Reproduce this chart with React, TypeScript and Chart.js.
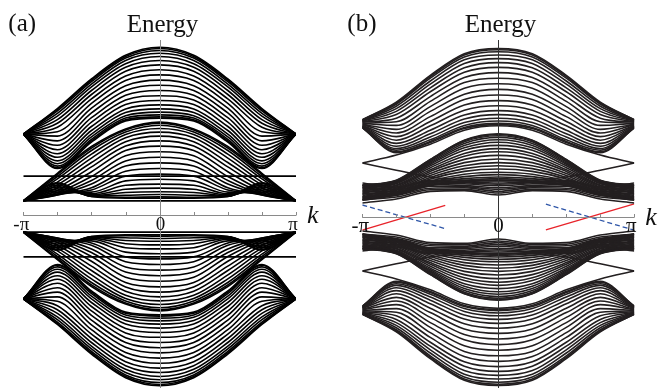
import { useEffect, useRef } from "react";
import { Chart, registerables } from "chart.js";

Chart.register(...registerables);

const PI = Math.PI;

// momenta at which every band line is sampled (whole Brillouin zone)
const kSamples = [-PI, -0.75 * PI, -0.5 * PI, -0.25 * PI, 0, 0.25 * PI, 0.5 * PI, 0.75 * PI, PI];
const kTicks = [-PI, -0.75 * PI, -0.5 * PI, -0.25 * PI, 0, 0.25 * PI, 0.5 * PI, 0.75 * PI, PI];
const kTickLabels = ["-π", "0", "π"];

// Each band line: energies at k = 0, π/4, π/2, 3π/4, π (the spectrum is even in k).
// Panel (a): upper half; the lower half is its mirror image E -> -E.
const bandA1 = [
  [4.23, 4.03, 3.44, 2.70, 2.06], [4.20, 4.00, 3.41, 2.68, 2.06], [4.15, 3.96, 3.37, 2.64, 2.06],
  [4.08, 3.90, 3.31, 2.58, 2.06], [4.00, 3.82, 3.24, 2.51, 2.06], [3.90, 3.73, 3.15, 2.42, 2.06],
  [3.79, 3.63, 3.05, 2.33, 2.06], [3.67, 3.51, 2.94, 2.23, 2.06], [3.54, 3.40, 2.83, 2.12, 2.06],
  [3.41, 3.27, 2.71, 2.01, 2.06], [3.28, 3.15, 2.59, 1.89, 2.06], [3.15, 3.03, 2.47, 1.78, 2.06],
  [3.02, 2.91, 2.36, 1.67, 2.06], [2.90, 2.80, 2.25, 1.57, 2.06], [2.79, 2.69, 2.15, 1.48, 2.06],
  [2.69, 2.60, 2.06, 1.39, 2.06], [2.61, 2.52, 1.99, 1.32, 2.06], [2.54, 2.46, 1.93, 1.26, 2.06],
  [2.49, 2.42, 1.89, 1.22, 2.06], [2.46, 2.39, 1.86, 1.20, 2.06],
];
const bandA2 = [
  [2.36, 2.19, 1.75, 1.08, 0.39], [2.33, 2.16, 1.71, 1.05, 0.39], [2.28, 2.11, 1.65, 1.00, 0.39],
  [2.20, 2.05, 1.56, 0.94, 0.39], [2.11, 1.97, 1.46, 0.86, 0.39], [2.01, 1.87, 1.35, 0.79, 0.39],
  [1.89, 1.76, 1.24, 0.72, 0.39], [1.76, 1.65, 1.12, 0.65, 0.39], [1.62, 1.52, 1.00, 0.60, 0.39],
  [1.48, 1.39, 0.90, 0.56, 0.39], [1.34, 1.26, 0.81, 0.54, 0.39], [1.20, 1.13, 0.72, 0.54, 0.39],
  [1.06, 1.01, 0.66, 0.56, 0.39], [0.93, 0.89, 0.61, 0.60, 0.39], [0.81, 0.78, 0.57, 0.64, 0.39],
  [0.71, 0.68, 0.54, 0.69, 0.39], [0.62, 0.60, 0.52, 0.74, 0.39], [0.55, 0.53, 0.51, 0.78, 0.39],
  [0.49, 0.48, 0.50, 0.82, 0.39], [0.46, 0.46, 0.50, 0.84, 0.39],
];
// dispersionless levels of panel (a)
const flatA = [1.01, 0.39];

// Panel (b): upper half; the lower half is its mirror image E -> -E.
const bandB1 = [
  [4.21, 4.08, 3.54, 2.87, 2.43], [4.18, 4.05, 3.51, 2.85, 2.43], [4.13, 4.00, 3.47, 2.82, 2.42],
  [4.05, 3.93, 3.40, 2.77, 2.41], [3.96, 3.84, 3.32, 2.71, 2.40], [3.86, 3.73, 3.23, 2.64, 2.39],
  [3.74, 3.62, 3.13, 2.56, 2.38], [3.61, 3.49, 3.01, 2.47, 2.37], [3.47, 3.36, 2.89, 2.38, 2.35],
  [3.33, 3.22, 2.76, 2.29, 2.34], [3.19, 3.07, 2.64, 2.19, 2.32], [3.05, 2.94, 2.51, 2.10, 2.31],
  [2.91, 2.80, 2.39, 2.01, 2.29], [2.78, 2.67, 2.28, 1.92, 2.28], [2.66, 2.55, 2.17, 1.84, 2.27],
  [2.56, 2.45, 2.08, 1.77, 2.26], [2.47, 2.36, 2.00, 1.71, 2.25], [2.40, 2.29, 1.93, 1.67, 2.24],
  [2.34, 2.24, 1.89, 1.63, 2.23], [2.31, 2.21, 1.86, 1.61, 2.23],
];
// the two in-gap lines that meet at k = ±π
const lensB = [
  [2.28, 2.17, 1.82, 1.55, 1.35],
  [0.90, 0.92, 1.00, 1.17, 1.35],
];
const bandB2 = [
  [2.08, 1.92, 1.44, 0.92, 0.80], [2.06, 1.91, 1.43, 0.91, 0.79], [2.03, 1.88, 1.41, 0.90, 0.78],
  [1.99, 1.84, 1.38, 0.89, 0.77], [1.93, 1.79, 1.35, 0.87, 0.75], [1.87, 1.73, 1.32, 0.85, 0.73],
  [1.79, 1.67, 1.28, 0.83, 0.71], [1.71, 1.59, 1.23, 0.80, 0.68], [1.63, 1.52, 1.18, 0.78, 0.65],
  [1.54, 1.44, 1.14, 0.75, 0.62], [1.45, 1.36, 1.09, 0.72, 0.60], [1.36, 1.28, 1.04, 0.69, 0.57],
  [1.28, 1.21, 0.99, 0.67, 0.54], [1.20, 1.14, 0.95, 0.64, 0.51], [1.12, 1.07, 0.90, 0.62, 0.49],
  [1.06, 1.01, 0.87, 0.60, 0.47], [1.00, 0.96, 0.84, 0.58, 0.45], [0.96, 0.92, 0.81, 0.57, 0.44],
  [0.93, 0.89, 0.80, 0.56, 0.43], [0.91, 0.88, 0.78, 0.55, 0.42],
];
const bandB3 = [
  [0.55, 0.66, 0.64, 0.45, 0.35], [0.60, 0.69, 0.68, 0.50, 0.43], [0.64, 0.73, 0.72, 0.54, 0.50],
  [0.69, 0.76, 0.77, 0.59, 0.58], [0.73, 0.79, 0.81, 0.63, 0.65], [0.78, 0.83, 0.85, 0.68, 0.73],
  [0.82, 0.86, 0.89, 0.72, 0.80], [0.85, 0.88, 0.92, 0.75, 0.85],
];
// chiral edge states of panel (b): [k, E] end points of each segment
const edgeRed = [
  [[-PI, -0.33], [-0.39 * PI, 0.29]],
  [[0.35 * PI, -0.32], [PI, 0.33]],
];
const edgeBlue = [
  [[-PI, 0.30], [-0.39 * PI, -0.29]],
  [[0.35 * PI, 0.32], [PI, -0.33]],
];

type Pt = { x: number; y: number };

function bandCurve(h: number[], sign: number): Pt[] {
  const e = [h[4], h[3], h[2], h[1], h[0], h[1], h[2], h[3], h[4]];
  return kSamples.map((k, i) => ({ x: k, y: sign * e[i] }));
}

function lineSet(data: Pt[], color: string, width: number, smooth: boolean, dash: number[] = []) {
  return {
    data,
    borderColor: color,
    borderWidth: width,
    borderDash: dash,
    pointRadius: 0,
    fill: false,
    tension: 0,
    cubicInterpolationMode: smooth ? "monotone" : "default",
  };
}

function bands(list: number[][][], color: string, width: number) {
  const out: any[] = [];
  for (const band of list) {
    for (const h of band) out.push(lineSet(bandCurve(h, 1), color, width, true));
    for (const h of band) out.push(lineSet(bandCurve(h, -1), color, width, true));
  }
  return out;
}

function flats(levels: number[], color: string, width: number) {
  const out: any[] = [];
  for (const e of levels) {
    out.push(lineSet([{ x: -PI, y: e }, { x: PI, y: e }], color, width, false));
    out.push(lineSet([{ x: -PI, y: -e }, { x: PI, y: -e }], color, width, false));
  }
  return out;
}

function segments(list: number[][][], color: string, dash: number[]) {
  return list.map((s) =>
    lineSet(s.map(([x, y]) => ({ x, y })), color, 1.3, false, dash)
  );
}

type FrameOpts = {
  tag: string;
  axisE: number;
  axisColor: string;
  vColor: string;
  tickFont: number;
};

// draws the k axis, the energy axis and all lettering
const framePlugin = {
  id: "frame",
  afterDatasetsDraw(chart: any, _args: any, o: FrameOpts) {
    const { ctx } = chart;
    const xs = chart.scales.x;
    const ys = chart.scales.y;
    const yA = Math.round(ys.getPixelForValue(o.axisE)) + 0.5;
    const xL = xs.getPixelForValue(-PI);
    const xR = xs.getPixelForValue(PI);
    const x0 = Math.round(xs.getPixelForValue(0)) + 0.5;
    ctx.save();
    ctx.lineWidth = 1;
    ctx.strokeStyle = o.axisColor;
    ctx.beginPath();
    ctx.moveTo(xL, yA);
    ctx.lineTo(xR, yA);
    for (const t of kTicks) {
      const x = Math.round(xs.getPixelForValue(t)) + 0.5;
      ctx.moveTo(x, yA);
      ctx.lineTo(x, yA - 3.5);
    }
    ctx.stroke();
    ctx.strokeStyle = o.vColor;
    ctx.beginPath();
    ctx.moveTo(x0, 40);
    ctx.lineTo(x0, chart.height);
    ctx.stroke();

    ctx.fillStyle = "#111";
    ctx.textBaseline = "alphabetic";
    ctx.font = `${o.tickFont}px "Liberation Serif", serif`;
    ctx.textAlign = "center";
    ctx.fillText(kTickLabels[0], xL - 2, yA + 14);
    ctx.fillText(kTickLabels[1], x0, yA + 14);
    ctx.fillText(kTickLabels[2], xR - 3, yA + 14);

    ctx.textAlign = "left";
    ctx.font = `italic 26px "Liberation Serif", serif`;
    ctx.fillText("k", xR + 11, yA + 7);

    ctx.font = `25px "Liberation Serif", serif`;
    ctx.textAlign = "center";
    ctx.fillText("Energy", x0 + 2, 32);

    ctx.textAlign = "left";
    ctx.font = `25px "Liberation Serif", serif`;
    ctx.fillText(o.tag, chart.chartArea.left - 15, 31);
    ctx.restore();
  },
};

type PanelProps = {
  left: number;
  padL: number;
  padR: number;
  eMax: number;
  eMin: number;
  datasets: any[];
  frame: FrameOpts;
};

function Panel({ left, padL, padR, eMax, eMin, datasets, frame }: PanelProps) {
  const ref = useRef<HTMLCanvasElement>(null);
  useEffect(() => {
    if (!ref.current) return;
    const chart = new Chart(ref.current, {
      type: "line",
      data: { datasets },
      options: {
        responsive: false,
        animation: false,
        devicePixelRatio: 1,
        events: [],
        layout: { padding: { left: padL, right: padR, top: 0, bottom: 0 } },
        scales: {
          x: { type: "linear", min: -PI, max: PI, display: false },
          y: { type: "linear", min: eMin, max: eMax, display: false },
        },
        plugins: {
          legend: { display: false },
          tooltip: { enabled: false },
          frame,
        } as any,
      },
      plugins: [framePlugin],
    });
    return () => chart.destroy();
  }, []);
  return (
    <canvas
      ref={ref}
      width={330}
      height={388}
      style={{ position: "absolute", left, top: 0, width: 330, height: 388 }}
    />
  );
}

export default function App() {
  const inkA = "#000000";
  const inkB = "#231f20";
  const setsA = [...flats(flatA, inkA, 1.6), ...bands([bandA1, bandA2], inkA, 1.6)];
  const setsB = [
    ...bands([bandB1, bandB2, bandB3, lensB], inkB, 1.6),
    ...segments(edgeRed, "#e8232a", []),
    ...segments(edgeBlue, "#2f56a8", [5, 3]),
  ];
  return (
    <div style={{ position: "fixed", left: 0, top: 0, width: 660, height: 388, background: "#fff", overflow: "hidden" }}>
      <Panel
        left={0}
        padL={23.3}
        padR={34}
        eMax={216.5 / 40}
        eMin={-171.5 / 40}
        datasets={setsA}
        frame={{ tag: "(a)", axisE: 0.04, axisColor: "#8a8a8a", vColor: "#8a8a8a", tickFont: 19 }}
      />
      <Panel
        left={330}
        padL={32.3}
        padR={25.7}
        eMax={217 / 40}
        eMin={-171 / 40}
        datasets={setsB}
        frame={{ tag: "(b)", axisE: 0, axisColor: "#8a8a8a", vColor: "#333333", tickFont: 21 }}
      />
    </div>
  );
}
